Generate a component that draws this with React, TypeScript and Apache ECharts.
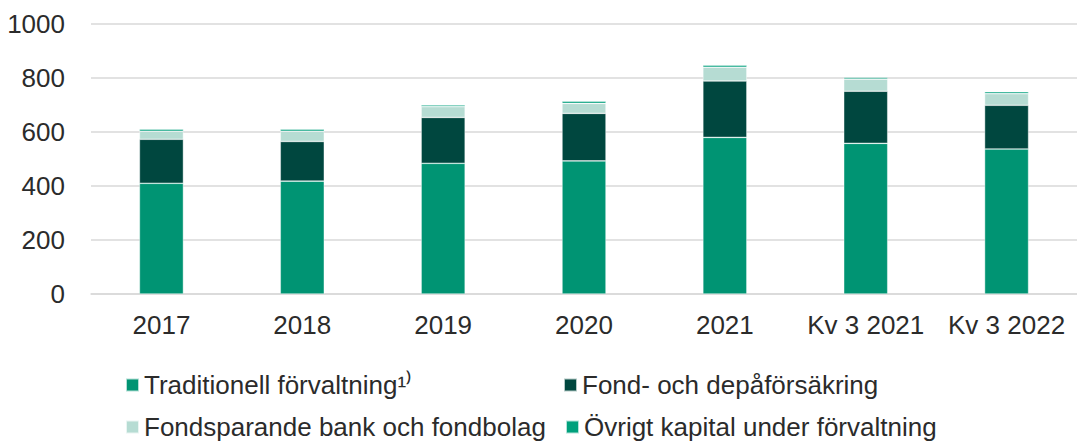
import React, { useEffect, useRef } from "react";
import * as echarts from "echarts";

const categories = ["2017", "2018", "2019", "2020", "2021", "Kv 3 2021", "Kv 3 2022"];
const traditionell = [410, 418, 484, 493, 580, 558, 537];
const fondDepa = [163, 147, 170, 176, 209, 193, 162];
const fondsparande = [30, 38, 40, 37, 51, 45, 43];
const ovrigt = [7, 7, 6, 8, 7, 6, 7];
const yTicks = { min: 0, max: 1000, interval: 200 };

const names = [
  "Traditionell förvaltning¹⁾",
  "Fond- och depåförsäkring",
  "Fondsparande bank och fondbolag",
  "Övrigt kapital under förvaltning",
];
const colors = ["#009473", "#00473f", "#b6dcd3", "#00a07c"];

const FONT = "'Liberation Sans', Arial, sans-serif";
const TEXT = "#2b2b2b";

export default function App() {
  const ref = useRef<HTMLDivElement>(null);
  useEffect(() => {
    if (!ref.current) return;
    const chart = echarts.init(ref.current, null, { renderer: "svg" });
    const dataSets = [traditionell, fondDepa, fondsparande, ovrigt];
    const legendCommon = {
      orient: "horizontal" as const,
      itemWidth: 13,
      itemHeight: 13,
      icon: "rect",
      textStyle: { fontSize: 26, fontFamily: FONT, color: TEXT },
    };
    const legendPos = [
      { left: 120, top: 367 },
      { left: 558, top: 367 },
      { left: 120, top: 409 },
      { left: 560, top: 409 },
    ];
    chart.setOption({
      animation: false,
      textStyle: { fontFamily: FONT },
      grid: { left: 91, right: 0, top: 24, bottom: 147 },
      legend: names.map((n, i) => ({ ...legendCommon, ...legendPos[i], data: [n] })),
      xAxis: {
        type: "category",
        data: categories,
        axisLine: { lineStyle: { color: "#d9d9d9", width: 1.5 } },
        axisTick: { show: false },
        axisLabel: { fontSize: 26, color: TEXT, margin: 18, fontFamily: FONT, interval: 0 },
      },
      yAxis: {
        type: "value",
        min: yTicks.min,
        max: yTicks.max,
        interval: yTicks.interval,
        axisLine: { show: false },
        axisTick: { show: false },
        splitLine: { lineStyle: { color: "#d9d9d9", width: 1.5 } },
        axisLabel: {
          fontSize: 26,
          color: TEXT,
          margin: 26,
          fontFamily: FONT,
          formatter: (v: number) => String(v),
        },
      },
      series: dataSets.map((d, i) => ({
        name: names[i],
        type: "bar",
        stack: "total",
        data: d,
        barWidth: 44,
        itemStyle: { color: colors[i], borderColor: "rgba(255,255,255,0.7)", borderWidth: 0.6 },
      })),
    });
    return () => chart.dispose();
  }, []);
  return (
    <div
      ref={ref}
      style={{ position: "absolute", left: 0, top: 0, width: 1077, height: 441 }}
    />
  );
}
